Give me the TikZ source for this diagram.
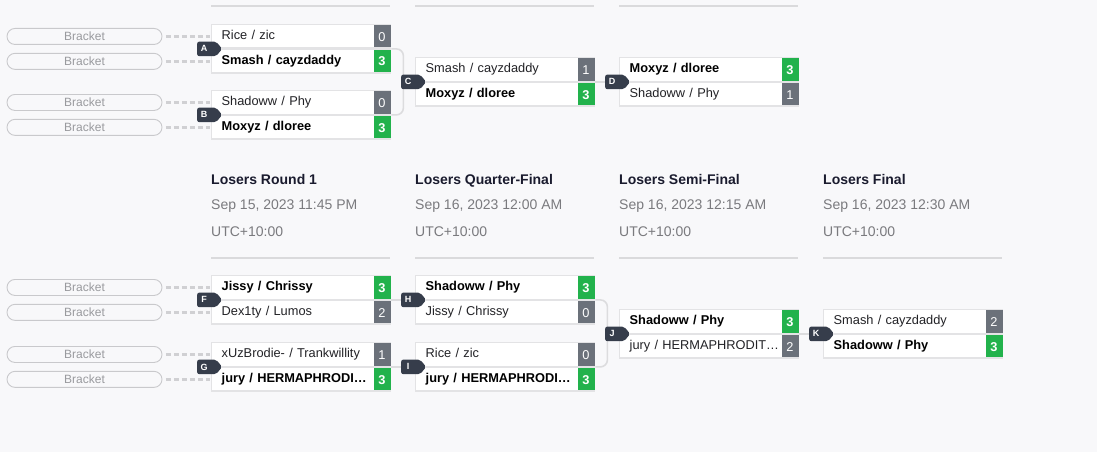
\documentclass[tikz,border=0pt]{standalone}
\usepackage{fontspec}
\setmainfont{Liberation Sans}
\usetikzlibrary{shapes.symbols,calc}
\definecolor{bg}{HTML}{F8F8FA}
\definecolor{bordc}{HTML}{E3E3E5}
\definecolor{greenc}{HTML}{22B24C}
\definecolor{grayc}{HTML}{6B717A}
\definecolor{tagc}{HTML}{363D4B}
\definecolor{connc}{HTML}{DCDCDE}
\definecolor{pillc}{HTML}{C9C9CC}
\definecolor{pilltext}{HTML}{999A9E}
\definecolor{dashc}{HTML}{D0D0D3}
\definecolor{titlec}{HTML}{1A1B2E}
\definecolor{datec}{HTML}{7A7A7E}
\definecolor{sepc}{HTML}{DADADC}
\definecolor{teamc}{HTML}{222226}
\newcommand{\teamfont}{\fontsize{12.8}{14}\selectfont}
\newcommand{\mymatch}[9]{%
  \node[row,row#6] (#11) at (#2,#3) {#4};
  \node[row,row#9,anchor=north west] (#12) at (#11.south west) {#7};
  \node[score,sc#6] (#11s) at ($(#11.east)+(-0.7,0)$) {#5};
  \node[score,sc#9] (#12s) at ($(#12.east)+(-0.7,0)$) {#8};
}
\begin{document}
\begin{tikzpicture}[x=1pt,y=-1pt,
  row/.style={draw=bordc, line width=1.4pt, fill=white, anchor=north west,
    minimum width=179pt, minimum height=23.5pt, text width=159pt,
    inner xsep=10pt, inner ysep=0pt, align=left, text height=9.3pt, text depth=2.5pt,
    font=\teamfont, text=teamc},
  rowW/.style={font=\teamfont\bfseries, text=black},
  rowL/.style={},
  score/.style={anchor=east, minimum width=17pt, minimum height=22.1pt, inner sep=0pt,
    text=white, font=\teamfont, text height=9.3pt, text depth=0pt},
  scW/.style={fill=greenc, font=\teamfont\bfseries},
  scL/.style={fill=grayc},
  tagbox/.style={shape=signal, signal to=east, signal pointer angle=100, fill=tagc,
    minimum width=25pt, minimum height=14.5pt, inner sep=0pt, rounded corners=2pt,
    text=white, font=\fontsize{9}{9}\selectfont\bfseries, anchor=west},
  pill/.style={draw=pillc, line width=0.9pt, rounded corners=8pt, minimum width=155pt,
    minimum height=16pt, inner sep=0pt, text=pilltext, font=\fontsize{12}{12}\selectfont},
  dashline/.style={draw=dashc, line width=2.6pt, dash pattern=on 5pt off 3pt, shorten <=3.5pt, shorten >=1pt},
  conn/.style={draw=connc, line width=1.6pt, rounded corners=7pt},
  sep/.style={draw=sepc, line width=1.2pt},
  title/.style={anchor=base west, inner sep=0pt, font=\fontsize{14}{14}\selectfont\bfseries, text=titlec},
  date/.style={anchor=base west, inner sep=0pt, font=\fontsize{14}{14}\selectfont, text=datec}
]
\path[fill=bg] (0,0) rectangle (1097,452);
\useasboundingbox (0,0) rectangle (1097,452);

% top separators
\draw[sep] (211,6) -- (390,6);
\draw[sep] (415,6) -- (594,6);
\draw[sep] (619,6) -- (798,6);

% headers
\node[title] (h1) at (211,184) {Losers Round 1};
\node[date] (d1) at (211,209) {Sep 15, 2023 11:45 PM};
\node[date] (u1) at (211,236.5) {UTC+10:00};
\node[title] (h2) at (415,184) {Losers Quarter-Final};
\node[date] (d2) at (415,209) {Sep 16, 2023 12:00 AM};
\node[date] (u2) at (415,236.5) {UTC+10:00};
\node[title] (h3) at (619,184) {Losers Semi-Final};
\node[date] (d3) at (619,209) {Sep 16, 2023 12:15 AM};
\node[date] (u3) at (619,236.5) {UTC+10:00};
\node[title] (h4) at (823,184) {Losers Final};
\node[date] (d4) at (823,209) {Sep 16, 2023 12:30 AM};
\node[date] (u4) at (823,236.5) {UTC+10:00};
\draw[sep] (211,258) -- (390,258);
\draw[sep] (415,258) -- (594,258);
\draw[sep] (619,258) -- (798,258);
\draw[sep] (823,258) -- (1002,258);

% matches
\mymatch{A}{211}{24}{Rice / zic}{0}{L}{Smash / cayzdaddy}{3}{W}
\mymatch{B}{211}{90}{Shadoww / Phy}{0}{L}{Moxyz / dloree}{3}{W}
\mymatch{C}{415}{57}{Smash / cayzdaddy}{1}{L}{Moxyz / dloree}{3}{W}
\mymatch{D}{619}{57}{Moxyz / dloree}{3}{W}{Shadoww / Phy}{1}{L}
\mymatch{F}{211}{275}{Jissy / Chrissy}{3}{W}{Dex1ty / Lumos}{2}{L}
\mymatch{G}{211}{342}{xUzBrodie- / Trankwillity}{1}{L}{jury / HERMAPHRODI…}{3}{W}
\mymatch{H}{415}{275}{Shadoww / Phy}{3}{W}{Jissy / Chrissy}{0}{L}
\mymatch{I}{415}{342}{Rice / zic}{0}{L}{jury / HERMAPHRODI…}{3}{W}
\mymatch{J}{619}{309}{Shadoww / Phy}{3}{W}{jury / HERMAPHRODIT…}{2}{L}
\mymatch{K}{823}{309}{Smash / cayzdaddy}{2}{L}{Shadoww / Phy}{3}{W}

% pills
\foreach \m in {A,B,F,G}{
  \node[pill] (p\m1) at (84.5,0 |- \m1.center) {Bracket};
  \node[pill] (p\m2) at (84.5,0 |- \m2.center) {Bracket};
  \draw[dashline] (p\m1.east) -- (\m1.west);
  \draw[dashline] (p\m2.east) -- (\m2.west);
}

% connectors
\draw[conn] (A2.north east) -- ++(12,0) |- (B2.north east);
\draw[conn] (C2.north east) -- (D2.north west);
\draw[conn] (F2.north east) -- (H2.north west);
\draw[conn] (G2.north east) -- (I2.north west);
\draw[conn] (H2.north east) -- ++(12,0) |- (I2.north east);
\draw[conn] (J2.north east) -- (K2.north west);

% tags
\node[tagbox] (tA) at ($(A2.north west)+(-14,0)$) {A\hspace*{5pt}};
\node[tagbox] (tB) at ($(B2.north west)+(-14,0)$) {B\hspace*{5pt}};
\node[tagbox] (tC) at ($(C2.north west)+(-14,0)$) {C\hspace*{5pt}};
\node[tagbox] (tD) at ($(D2.north west)+(-14,0)$) {D\hspace*{5pt}};
\node[tagbox] (tF) at ($(F2.north west)+(-14,0)$) {F\hspace*{5pt}};
\node[tagbox] (tG) at ($(G2.north west)+(-14,0)$) {G\hspace*{5pt}};
\node[tagbox] (tH) at ($(H2.north west)+(-14,0)$) {H\hspace*{5pt}};
\node[tagbox] (tI) at ($(I2.north west)+(-14,0)$) {I\hspace*{5pt}};
\node[tagbox] (tJ) at ($(J2.north west)+(-14,0)$) {J\hspace*{5pt}};
\node[tagbox] (tK) at ($(K2.north west)+(-14,0)$) {K\hspace*{5pt}};
\end{tikzpicture}
\end{document}
